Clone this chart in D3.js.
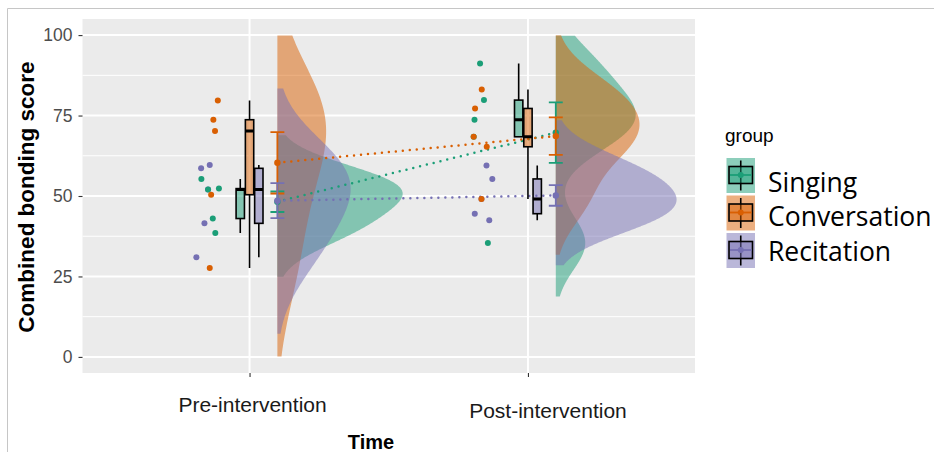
<!DOCTYPE html>
<html>
<head>
<meta charset="utf-8">
<script src="https://cdn.jsdelivr.net/npm/d3@7"></script>
<style>
  body { margin: 0; background: #fff; }
  svg { display: block; font-family: "Liberation Sans", Arial, sans-serif; }
</style>
</head>
<body>
<svg id="chart" width="934" height="452"></svg>
<script>
// categories
var times = ['Pre-intervention', 'Post-intervention']
var groups = ['Singing', 'Conversation', 'Recitation']
var groupColors = ['#1B9E77', '#D95F02', '#7570B3']
var yTicks = [0, 25, 50, 75, 100]

// Combined bonding scores (5 people per group)
var singingPre = [55.3, 52.0, 52.3, 43.0, 38.5]
var singingPost = [91.2, 79.8, 73.7, 68.4, 35.4]
var conversationPre = [79.7, 73.7, 70.2, 50.4, 27.6]
var conversationPost = [83.1, 77.2, 68.4, 65.3, 49.1]
var recitationPre = [58.6, 59.6, 52.0, 41.5, 31.0]
var recitationPost = [59.5, 55.3, 49.1, 44.5, 42.5]

// horizontal jitter of the raw points (category units, relative to the tick)
var singingPreJitter = [-0.173, -0.149, -0.110, -0.132, -0.123]
var singingPostJitter = [-0.172, -0.158, -0.192, -0.195, -0.144]
var conversationPreJitter = [-0.114, -0.130, -0.124, -0.138, -0.143]
var conversationPostJitter = [-0.166, -0.190, -0.195, -0.148, -0.167]
var recitationPreJitter = [-0.174, -0.143, -0.149, -0.162, -0.191]
var recitationPostJitter = [-0.149, -0.128, -0.167, -0.191, -0.139]

var scores = [[singingPre, singingPost], [conversationPre, conversationPost], [recitationPre, recitationPost]]
var jitters = [[singingPreJitter, singingPostJitter], [conversationPreJitter, conversationPostJitter], [recitationPreJitter, recitationPostJitter]]

var densityAdjust = 1.5 // smoother than plain nrd0; range still +/- 3 * bw

var svg = d3.select('#chart')
var x = d3.scaleLinear().domain([0.4, 2.6]).range([82.5, 695])
var y = d3.scaleLinear().domain([-5, 105]).range([373, 19])

// one entry per group x time
var series = []
groups.forEach(function(g, gi) {
	times.forEach(function(t, ti) {
		var v = scores[gi][ti].slice()
		var s = v.slice().sort(d3.ascending)
		var q1 = d3.quantile(s, 0.25), q3 = d3.quantile(s, 0.75), iqr = q3 - q1
		series.push({
			gi: gi, ti: ti, values: v, jitter: jitters[gi][ti],
			q1: q1, med: d3.quantile(s, 0.5), q3: q3,
			lo: d3.min(s.filter(function(d) { return d >= q1 - 1.5 * iqr })),
			hi: d3.max(s.filter(function(d) { return d <= q3 + 1.5 * iqr })),
			mean: d3.mean(v), se: d3.deviation(v) / Math.sqrt(v.length),
			dens: kde(s)
		})
	})
})
var maxDens = d3.max(series, function(d) { return d3.max(d.dens, function(p) { return p[1] }) })

// gaussian kde like ggplot's stat_ydensity (bw.nrd0, trim = FALSE)
function kde(s) {
	var n = s.length
	var q = (d3.quantile(s, 0.75) - d3.quantile(s, 0.25)) / 1.34
	var bw = 0.9 * Math.min(d3.deviation(s), q) * Math.pow(n, -0.2)
	var lo = s[0] - 3 * bw, hi = s[n - 1] + 3 * bw
	var h = bw * densityAdjust
	var out = []
	for (var i = 0; i < 512; i++) {
		var at = lo + (hi - lo) * i / 511
		var sum = 0
		s.forEach(function(v) { var z = (at - v) / h; sum += Math.exp(-0.5 * z * z) })
		out.push([at, sum / (n * h * Math.sqrt(2 * Math.PI))])
	}
	return out
}

// outer frame of the screenshot
svg.append('path').attr('d', 'M7.5,452V8.5H934').attr('fill', 'none').attr('stroke', '#c6c6c6')

// panel + grid
svg.append('rect').attr('x', 82.5).attr('y', 19).attr('width', 612.5).attr('height', 354).attr('fill', '#EBEBEB')
svg.append('clipPath').attr('id', 'panel').append('rect').attr('x', 82.5).attr('y', 19).attr('width', 612.5).attr('height', 354)
var grid = svg.append('g')
grid.selectAll('.minor').data([12.5, 37.5, 62.5, 87.5]).enter().append('line')
	.attr('x1', 82.5).attr('x2', 695).attr('y1', function(d) { return y(d) }).attr('y2', function(d) { return y(d) })
	.attr('stroke', '#fff').attr('stroke-width', 1)
grid.selectAll('.major').data(yTicks).enter().append('line')
	.attr('x1', 82.5).attr('x2', 695).attr('y1', function(d) { return y(d) }).attr('y2', function(d) { return y(d) })
	.attr('stroke', '#fff').attr('stroke-width', 2)
grid.selectAll('.vx').data([1, 2]).enter().append('line')
	.attr('y1', 19).attr('y2', 373).attr('x1', function(d) { return x(d) }).attr('x2', function(d) { return x(d) })
	.attr('stroke', '#fff').attr('stroke-width', 2)

var plot = svg.append('g').attr('clip-path', 'url(#panel)')

// half violins, scale = "area", cut at the 0-100 limits
series.forEach(function(d) {
	var x0 = x(d.ti + 1 + 0.1)
	var pts = d.dens.filter(function(p) { return p[0] >= 0 && p[0] <= 100 })
	var area = d3.area()
		.y(function(p) { return y(p[0]) })
		.x0(x0)
		.x1(function(p) { return x(d.ti + 1 + 0.1 + 0.45 * p[1] / maxDens) })
	plot.append('path').attr('d', area(pts))
		.attr('fill', groupColors[d.gi]).attr('fill-opacity', 0.5)
})

// dotted lines joining the means
groups.forEach(function(g, gi) {
	var pair = series.filter(function(d) { return d.gi == gi })
	plot.append('line')
		.attr('x1', x(1.1)).attr('y1', y(pair[0].mean))
		.attr('x2', x(2.1)).attr('y2', y(pair[1].mean))
		.attr('stroke', groupColors[gi]).attr('stroke-width', 2.5)
		.attr('stroke-linecap', 'round').attr('stroke-dasharray', '0 7')
})

// raw points (drawn so the hidden ones sit underneath)
;[2, 0, 1].forEach(function(gi) {
	series.filter(function(d) { return d.gi == gi }).forEach(function(d) {
		d.values.forEach(function(v, i) {
			plot.append('circle')
				.attr('cx', x(d.ti + 1 + d.jitter[i])).attr('cy', y(v)).attr('r', 3)
				.attr('fill', groupColors[gi])
		})
	})
})

// dodged boxplots
series.forEach(function(d) {
	var cx = d.ti + 1 + (d.gi - 1) * 0.1 / 3
	var g = plot.append('g').attr('stroke', '#000')
	g.append('line').attr('x1', x(cx)).attr('x2', x(cx)).attr('y1', y(d.q3)).attr('y2', y(d.hi)).attr('stroke-width', 1.6)
	g.append('line').attr('x1', x(cx)).attr('x2', x(cx)).attr('y1', y(d.q1)).attr('y2', y(d.lo)).attr('stroke-width', 1.6)
	g.append('rect')
		.attr('x', x(cx - 0.015)).attr('width', x(cx + 0.015) - x(cx - 0.015))
		.attr('y', y(d.q3)).attr('height', y(d.q1) - y(d.q3))
		.attr('fill', d3.color(groupColors[d.gi]).copy({opacity: 0.5}) + '')
		.attr('stroke-width', 1.6)
	g.append('line').attr('x1', x(cx - 0.015)).attr('x2', x(cx + 0.015))
		.attr('y1', y(d.med)).attr('y2', y(d.med)).attr('stroke-width', 3)
})

// mean +/- se
series.forEach(function(d) {
	var cx = d.ti + 1 + 0.1
	var g = plot.append('g').attr('stroke', groupColors[d.gi]).attr('stroke-width', 1.8)
	g.append('line').attr('x1', x(cx)).attr('x2', x(cx)).attr('y1', y(d.mean - d.se)).attr('y2', y(d.mean + d.se))
	;[d.mean - d.se, d.mean + d.se].forEach(function(v) {
		g.append('line').attr('x1', x(cx - 0.025)).attr('x2', x(cx + 0.025)).attr('y1', y(v)).attr('y2', y(v))
	})
	plot.append('circle').attr('cx', x(cx)).attr('cy', y(d.mean)).attr('r', 3.2).attr('fill', groupColors[d.gi])
})

// axes
var yAxis = svg.append('g').attr('transform', 'translate(82.5,0)')
	.call(d3.axisLeft(y).tickValues(yTicks).tickSize(4).tickPadding(6))
yAxis.select('.domain').remove()
yAxis.selectAll('line').attr('stroke', '#333').attr('stroke-width', 1.1)
yAxis.selectAll('text').attr('fill', '#4D4D4D')
	.style('font-family', '"Liberation Sans Narrow", "Liberation Sans", sans-serif').style('font-size', '17.5px')

var xAxis = svg.append('g').attr('transform', 'translate(0,373)')
	.call(d3.axisBottom(x).tickValues([1, 2]).tickSize(4).tickFormat(function(d) { return times[d - 1] }))
xAxis.select('.domain').remove()
xAxis.selectAll('line').attr('stroke', '#333').attr('stroke-width', 1.1)
xAxis.selectAll('text').attr('fill', '#1a1a1a').style('font-size', '21px')
	.attr('y', function(d) { return d == 1 ? 38.5 : 44.5 }).attr('dy', 0)
	.attr('dx', function(d) { return d == 1 ? 2.5 : 19.5 })

svg.append('text').attr('x', 371).attr('y', 448.5).attr('text-anchor', 'middle')
	.style('font-size', '20px').style('font-weight', 'bold').text('Time')
svg.append('text').attr('transform', 'translate(33.5,197) rotate(-90)').attr('text-anchor', 'middle')
	.style('font-size', '22.5px').style('font-weight', 'bold').text('Combined bonding score')

// legend
var legend = svg.append('g')
legend.append('text').attr('x', 725).attr('y', 142).style('font-size', '19px').text('group')
var keyTop = [158, 195.5, 233]
var labelBase = [191.5, 226, 260.5]
groups.forEach(function(g, gi) {
	var k = legend.append('g').attr('transform', 'translate(726.5,' + keyTop[gi] + ')')
	var fill = d3.color(groupColors[gi]).copy({opacity: 0.5}) + ''
	k.append('rect').attr('width', 28.5).attr('height', 35).attr('fill', fill)
	k.append('line').attr('x1', 14.25).attr('x2', 14.25).attr('y1', 2.5).attr('y2', 32.5).attr('stroke', '#000').attr('stroke-width', 1.6)
	k.append('rect').attr('x', 2.5).attr('y', 8.5).attr('width', 23.5).attr('height', 17).attr('fill', fill)
		.attr('stroke', '#000').attr('stroke-width', 1.6)
	k.append('line').attr('x1', 3.5).attr('x2', 25).attr('y1', 17).attr('y2', 17).attr('stroke', groupColors[gi]).attr('stroke-width', 1.8)
	k.append('circle').attr('cx', 14.25).attr('cy', 17).attr('r', 3).attr('fill', groupColors[gi])
	legend.append('text').attr('x', 768).attr('y', labelBase[gi])
		.style('font-family', '"Open Sans", sans-serif').style('font-size', '26.5px').text(g)
})
</script>
</body>
</html>
